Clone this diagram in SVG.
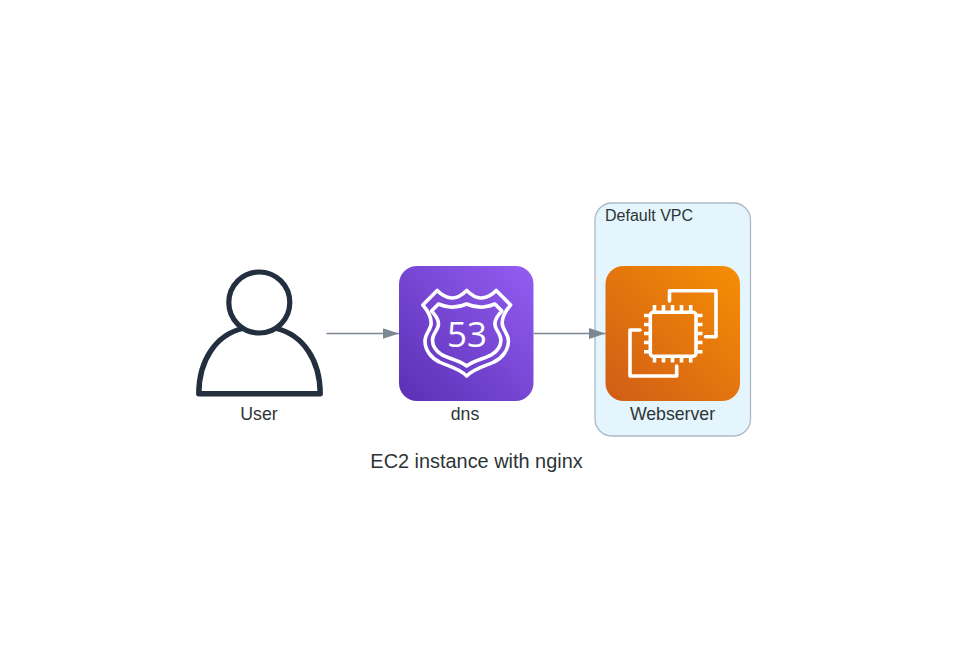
<svg xmlns="http://www.w3.org/2000/svg" width="953" height="672" viewBox="0 0 953 672">
  <style>
    text { font-family: "Liberation Sans", Arial, sans-serif; fill: #2D3436; }
    .label { font-size: 17.700px; text-anchor: middle; }
    .ico { fill: none; stroke: #fff; stroke-width: 3.600; stroke-linejoin: round; }
    .edge { fill: none; stroke: #7B8894; stroke-width: 1.300; }
  </style>
  <defs>
    <linearGradient id="purple" x1="0" y1="1" x2="1" y2="0">
      <stop offset="0" stop-color="#5A30B5"/><stop offset="1" stop-color="#945DF2"/>
    </linearGradient>
    <linearGradient id="orange" x1="0" y1="1" x2="1" y2="0">
      <stop offset="0" stop-color="#D05C17"/><stop offset="1" stop-color="#F78E04"/>
    </linearGradient>
    <marker id="arrow" markerUnits="userSpaceOnUse" markerWidth="17" markerHeight="12" refX="16.500" refY="6" orient="auto">
      <path d="M0 0.500L16.500 6L0 11.500Z" fill="#7B8894"/>
    </marker>
  </defs>
  <rect width="953" height="672" fill="#fff"/>
  <g id="cluster-default-vpc">
    <rect x="595" y="203" width="155.500" height="233" rx="17" fill="#E5F5FD" stroke="#AEB9C4" stroke-width="1.300"/>
    <text x="605" y="221" font-size="16">Default VPC</text>
  </g>
  <g id="connectors">
    <path class="edge" d="M326.500 333.500H399" marker-end="url(#arrow)"/>
    <path class="edge" d="M533.500 333.500H605.500" marker-end="url(#arrow)"/>
  </g>
  <g id="node-user">
    <circle cx="259.300" cy="302.500" r="30.500" fill="none" stroke="#232F3E" stroke-width="5.200"/>
    <path d="M242.500 328.500C216 335 198.800 360 198.800 393.800H320.200C320.200 360 303 335 276.500 328.500" fill="none" stroke="#232F3E" stroke-width="5.400" stroke-linejoin="round"/>
    <text class="label" x="259" y="420">User</text>
  </g>
  <g id="node-dns">
    <rect x="399" y="266" width="134.500" height="135" rx="18" fill="url(#purple)"/>
    <path class="ico" stroke-width="3.800" d="M466.700 290.500C461 296 456 298.500 451.500 298C447 297.500 442 295.500 437.200 290.500L422.800 305C428 311 431.200 317 431.200 323C431.200 330 425 333 425 341C425 350 431 358 439.500 362C447.500 366 459 368 466.700 376C474.400 368 485.900 366 493.900 362C502.400 358 508.400 350 508.400 341C508.400 333 502.200 330 502.200 323C502.200 317 505.400 311 510.600 305L496.200 290.500C491.400 295.500 486.400 297.500 481.900 298C477.400 298.500 472.400 296 466.700 290.500Z"/>
    <path class="ico" d="M466.700 304C461 306.500 455 307.500 450 307C446 306.500 442 305.500 438.500 304L431.500 311C435.500 315 438.500 319 438.500 324C438.500 330 432.500 333 432.500 340C432.500 346 436 351 441.500 354.500C448 358.500 459 360 466.700 366C474.400 360 485.400 358.500 491.900 354.500C497.400 351 500.900 346 500.900 340C500.900 333 494.900 330 494.900 324C494.900 319 497.900 315 501.900 311L494.900 304C491.400 305.500 487.400 306.500 483.400 307C478.400 307.500 472.400 306.500 466.700 304Z"/>
    <text x="467" y="346.700" text-anchor="middle" style="fill:#fff;font-family:'Open Sans','Liberation Sans',sans-serif;font-size:35px;font-weight:400">53</text>
    <text class="label" x="465" y="420">dns</text>
  </g>
  <g id="node-webserver">
    <rect x="605.500" y="266" width="134.500" height="135" rx="18" fill="url(#orange)"/>
    <path class="ico" stroke-linecap="round" d="M669.500 301V290.700H716V336.700H705.500"/>
    <path class="ico" stroke-linecap="round" d="M640 330H630V376H676.700V366"/>
    <rect class="ico" x="650.300" y="312.300" width="45.700" height="44" rx="3"/>
    <path class="ico" d="M654.500 305V312M663.500 305V312M672.500 305V312M681.500 305V312M690.700 305V312M654.500 356.500V362.500M663.500 356.500V362.500M672.500 356.500V362.500M681.500 356.500V362.500M690.700 356.500V362.500M644 315.500H650.300M644 324.500H650.300M644 333.500H650.300M644 342.500H650.300M644 351.700H650.300M696 315.500H702.500M696 324.500H702.500M696 333.500H702.500M696 342.500H702.500M696 351.700H702.500"/>
    <text class="label" x="672.500" y="420">Webserver</text>
  </g>
  <text id="title" x="476.500" y="467.500" font-size="19.900" text-anchor="middle">EC2 instance with nginx</text>
</svg>
